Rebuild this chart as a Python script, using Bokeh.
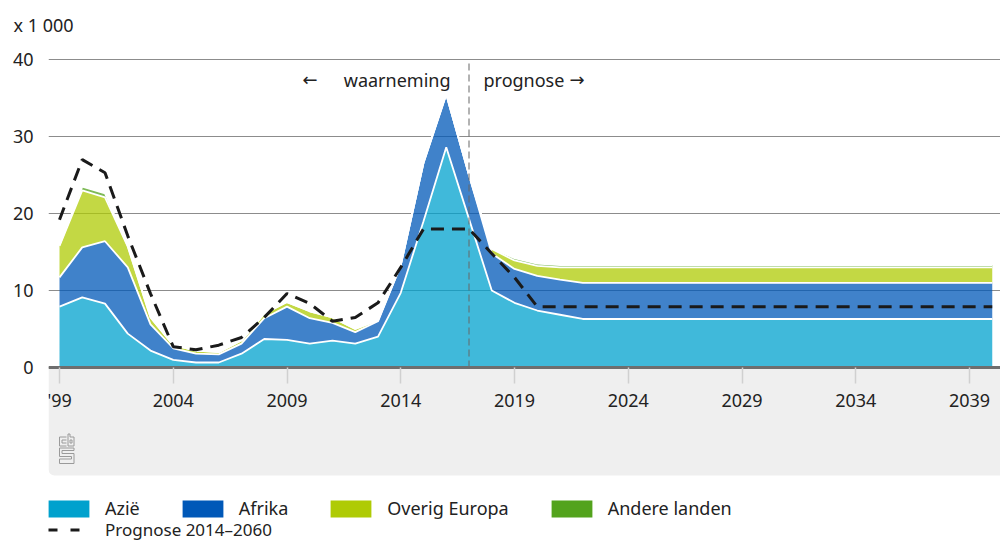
import numpy as np
from bokeh.plotting import figure
from bokeh.models import Range1d, FixedTicker, Label, Legend, LegendItem, Title
from bokeh.embed import file_html
from bokeh.resources import INLINE

# ---------------- data (x 1 000) ----------------
years = list(range(1999, 2041))
azie = [7.9, 9.1, 8.3, 4.4, 2.2, 1.0, 0.65, 0.65, 1.8, 3.7, 3.6, 3.1, 3.5, 3.1,
        4.0, 9.7, 19.0, 28.6, 19.3, 10.0, 8.4, 7.4, 6.85, 6.3] + [6.3] * 18
afrika = [3.8, 6.5, 8.1, 8.6, 3.4, 1.5, 1.15, 1.05, 1.3, 2.7, 4.3, 3.3, 2.3, 1.5,
          2.0, 3.6, 7.6, 6.9, 5.7, 4.8, 4.4, 4.5, 4.55, 4.7] + [4.7] * 18
overig_europa = [4.1, 7.4, 5.7, 2.7, 0.9, 0.4, 0.4, 0.3, 0.4, 0.6, 0.6, 0.9, 0.7, 0.4,
                 0.15, 0.0, 0.0, 0.0, 0.0, 0.6, 1.1, 1.3, 1.6, 2.0] + [2.0] * 18
andere_landen = [0.1, 0.5, 0.5, 0.1, 0.05, 0.0, 0.0, 0.0, 0.0, 0.0, 0.0, 0.0, 0.0, 0.0,
                 0.0, 0.0, 0.0, 0.0, 0.0, 0.1, 0.3, 0.3, 0.3, 0.3] + [0.3] * 18
prognose = [19.2, 27.0, 25.3, 17.1, 9.6, 2.7, 2.3, 2.9, 3.9, 6.5, 9.6, 8.3, 6.0, 6.5,
            8.4, 13.0, 18.0, 18.0, 18.0, 14.8, 11.7, 7.9] + [7.9] * 20

series_names = ["Azië", "Afrika", "Overig Europa", "Andere landen"]
series_colors = ["#00A1CD", "#0058B8", "#AFCB05", "#53A31D"]
prognose_label = "Prognose 2014–2060"
split_year = 2017
x_ticks = list(range(1999, 2040, 5))
x_tick_overrides = {1999: "'99"}
y_ticks = [0, 10, 20, 30, 40]
y_unit = "x 1 000"

FONT = "Noto Sans"
ARROW_FONT = "DejaVu Sans"
TXT = "#222222"

# ---------------- geometry helpers ----------------
W, H = 1000, 541
FRAME_LEFT, FRAME_TOP = 48, 45
PX_PER_YEAR = 22.75
PX_PER_UNIT = 7.7
X0 = 1999 - (59 - FRAME_LEFT) / PX_PER_YEAR
X1 = 1999 + (W - 59) / PX_PER_YEAR
Y1 = (367 - FRAME_TOP) / PX_PER_UNIT
Y0 = -(H - 367) / PX_PER_UNIT


def px(xr, yr):
    """reference-pixel -> data coordinates (for decorations only)"""
    return 1999 + (xr - 59) / PX_PER_YEAR, (367 - yr) / PX_PER_UNIT


p = figure(width=W, height=H, output_backend="svg", toolbar_location=None,
           x_range=Range1d(X0, X1), y_range=Range1d(Y0, Y1),
           min_border_left=FRAME_LEFT, min_border_right=0,
           min_border_top=FRAME_TOP, min_border_bottom=0)
p.outline_line_color = None
p.background_fill_color = "white"
p.border_fill_color = "white"

# unit title "x 1 000"
p.title = Title(text=y_unit, align="left", offset=13 - FRAME_LEFT, standoff=18,
                text_font=FONT, text_font_size="18px", text_font_style="normal",
                text_color=TXT)

# grey panel below the axis
panel_bottom = px(0, 475)[1]
panel = p.quad(left=[X0], right=[X1], top=[0], bottom=[panel_bottom],
               fill_color="#EFEFEF", line_color=None)
try:
    panel.glyph.border_radius = (0, 0, 0, 6)
except Exception:
    pass

# cbs logo (decoration)
logo_paths_px = [
    [(66, 436.5), (59, 436.5), (59, 445.5), (66, 445.5)],
    [(66, 439.5), (61.5, 439.5), (61.5, 442.5), (66, 442.5)],
    [(67.5, 433.5), (67.5, 445.5), (73.5, 445.5), (73.5, 436.5), (69.5, 436.5), (69.5, 433.5), (67.5, 433.5)],
    [(69.5, 439.5), (71.5, 439.5), (71.5, 442.5), (69.5, 442.5), (69.5, 439.5)],
    [(73.5, 447.5), (59, 447.5), (59, 456), (71, 456), (71, 458.5), (59, 458.5), (59, 463),
     (73.5, 463), (73.5, 453), (61.5, 453), (61.5, 450), (73.5, 450), (73.5, 447.5)],
]
lx, ly = [], []
for path in logo_paths_px:
    pts = [px(a, b) for a, b in path]
    lx.append([q[0] for q in pts])
    ly.append([q[1] for q in pts])
p.multi_line(lx, ly, line_color="#9A9A9A", line_width=1)

# stacked areas
layers = [np.array(azie), np.array(afrika), np.array(overig_europa), np.array(andere_landen)]
cum = np.cumsum(np.vstack(layers), axis=0)
bottoms = [np.zeros(len(years))] + [cum[i] for i in range(3)]
for i in range(4):
    p.varea(x=years, y1=bottoms[i], y2=cum[i], fill_color=series_colors[i], fill_alpha=0.75)
for i in range(4):
    p.line(years, cum[i], line_color="white", line_width=1.8)

# split line
p.segment(x0=[split_year], y0=[0], x1=[split_year], y1=[y_ticks[-1]],
          line_color="#666666", line_width=1, line_dash="7 4")

# prognose line
p.line(years, prognose, line_color="#1A1A1A", line_width=3, line_dash="13 8")

# grid & axes
p.xgrid.visible = False
p.ygrid.ticker = FixedTicker(ticks=y_ticks)
p.ygrid.grid_line_color = "#8C8C8C"
p.ygrid.grid_line_width = 1

ya = p.yaxis[0]
ya.ticker = FixedTicker(ticks=y_ticks)
ya.axis_line_color = None
ya.major_tick_line_color = None
ya.minor_tick_line_color = None
ya.major_tick_out = 0
ya.major_tick_in = 0
ya.major_label_standoff = 15
ya.major_label_text_font = FONT
ya.major_label_text_font_size = "18px"
ya.major_label_text_color = TXT

xa = p.xaxis[0]
xa.fixed_location = 0
xa.ticker = FixedTicker(ticks=x_ticks)
xa.major_label_overrides = x_tick_overrides
xa.axis_line_color = "#6E6E6E"
xa.axis_line_width = 3
xa.major_tick_line_color = "#D0D0D0"
xa.major_tick_line_width = 1.5
xa.major_tick_out = 16
xa.major_tick_in = 0
xa.minor_tick_line_color = None
xa.major_label_standoff = 4
xa.major_label_text_font = FONT
xa.major_label_text_font_size = "18px"
xa.major_label_text_color = TXT

# texts
ay = px(0, 79)[1]
p.add_layout(Label(x=px(302, 0)[0], y=ay, text="←", text_font=ARROW_FONT, text_font_size="18px",
                   text_color=TXT, text_baseline="middle", text_align="left"))
p.add_layout(Label(x=px(450, 0)[0], y=ay, text="waarneming", text_font=FONT, text_font_size="18px",
                   text_color=TXT, text_baseline="middle", text_align="right"))
p.add_layout(Label(x=px(483, 0)[0], y=ay, text="prognose", text_font=FONT, text_font_size="18px",
                   text_color=TXT, text_baseline="middle", text_align="left"))
p.add_layout(Label(x=px(569, 0)[0], y=ay, text="→", text_font=ARROW_FONT, text_font_size="18px",
                   text_color=TXT, text_baseline="middle", text_align="left"))

# legends (solid swatches via zero-size helper glyphs)
items = []
for name, col in zip(series_names, series_colors):
    r = p.quad(left=[years[0]], right=[years[0]], top=[0], bottom=[0],
               fill_color=col, line_color=None)
    items.append(LegendItem(label=name, renderers=[r]))
rl = p.line([years[0]], [prognose[0]], line_color="#1A1A1A", line_width=3, line_dash="9 13")


def style(leg, gw, gh, standoff, spacing, fs):
    leg.orientation = "horizontal"
    leg.padding = 0
    leg.margin = 0
    leg.spacing = spacing
    leg.glyph_width = gw
    leg.glyph_height = gh
    leg.label_standoff = standoff
    leg.label_text_font = FONT
    leg.label_text_font_size = fs
    leg.label_text_color = TXT
    leg.border_line_color = None
    leg.background_fill_alpha = 0
    leg.inactive_fill_alpha = 0


# area swatches are inset by 10% of the glyph box -> enlarge box
leg1 = Legend(items=items, location=(-5, 21))
style(leg1, 51, 21, 11, 37, "18px")
leg2 = Legend(items=[LegendItem(label=prognose_label, renderers=[rl])], location=(0, 0))
style(leg2, 41, 17, 16, 42, "17px")
p.add_layout(leg1)
p.add_layout(leg2)

open("out.html", "w").write(file_html(p, INLINE))
